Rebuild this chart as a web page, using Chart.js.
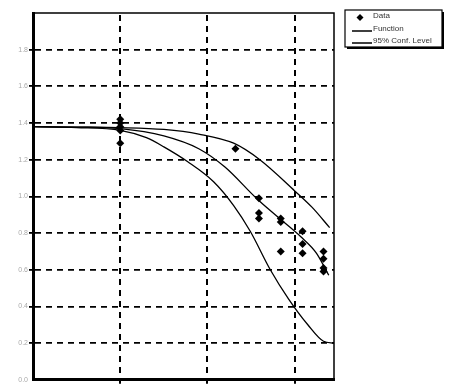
<!DOCTYPE html>
<html>
<head>
<meta charset="utf-8">
<title>Fit chart</title>
<script src="https://cdn.jsdelivr.net/npm/chart.js@4/dist/chart.umd.min.js"></script>
<style>
  html, body { margin: 0; padding: 0; background: #fff; }
  canvas { display: block; }
</style>
</head>
<body>
<canvas id="fitChart" width="459" height="385"></canvas>
<script>
//  Measured data points
const dataX = [1, 1, 1, 1, 1, 2.32, 2.59, 2.59, 2.59, 2.84, 2.84, 2.84, 3.09, 3.09, 3.09, 3.33, 3.33, 3.33, 3.33]
const dataY = [1.42, 1.40, 1.38, 1.36, 1.29, 1.26, 0.99, 0.91, 0.88, 0.88, 0.86, 0.70, 0.81, 0.74, 0.69, 0.70, 0.66, 0.61, 0.59]

//  Fitted function
const fnX = [0, 0.5, 1, 1.5, 1.9, 2.2, 2.56, 2.8, 3.07, 3.25, 3.39]
const fnY = [1.38, 1.378, 1.37, 1.33, 1.26, 1.16, 0.99, 0.89, 0.78, 0.69, 0.57]

//  95% confidence limits
const upperX = [0, 0.5, 1, 1.5, 1.9, 2.3, 2.6, 3.0, 3.2, 3.4]
const upperY = [1.38, 1.378, 1.375, 1.365, 1.34, 1.29, 1.20, 1.03, 0.94, 0.83]
const lowerX = [0, 0.5, 1, 1.3, 1.5, 1.77, 2.07, 2.3, 2.49, 2.72, 2.93, 3.15, 3.33, 3.45]
const lowerY = [1.38, 1.375, 1.36, 1.32, 1.27, 1.19, 1.08, 0.95, 0.81, 0.60, 0.44, 0.30, 0.21, 0.20]

//  Axis setup
const yTicks = ['0.0', '0.2', '0.4', '0.6', '0.8', '1.0', '1.2', '1.4', '1.6', '1.8']
const xGridValues = [1, 2, 3]
const legendLabels = ['Data', 'Function', '95% Conf. Level']

const toPoints = (xs, ys) => xs.map((x, i) => ({ x: x, y: ys[i] }))

//  Dashed vertical grid, drawn under the data
//  (setLineDash gave solid vertical lines here, so dashes are stroked one by one)
const vGridPlugin = {
  id: 'vGridPlugin',
  beforeDatasetsDraw (chart) {
    const ctx = chart.ctx
    const area = chart.chartArea
    const xScale = chart.scales.x
    ctx.save()
    ctx.strokeStyle = '#000'
    ctx.lineWidth = 2
    ctx.lineCap = 'butt'
    xGridValues.forEach(v => {
      const px = Math.round(xScale.getPixelForValue(v))
      for (let y = area.top + 2; y < area.bottom; y += 11) {
        ctx.beginPath()
        ctx.moveTo(px, y)
        ctx.lineTo(px, Math.min(y + 6, area.bottom))
        ctx.stroke()
      }
      // small tick below the axis
      ctx.beginPath()
      ctx.moveTo(px, area.bottom)
      ctx.lineTo(px, area.bottom + 4)
      ctx.stroke()
    })
    ctx.restore()
  }
}

//  Frame and boxed legend drawn after the chart
const framePlugin = {
  id: 'framePlugin',
  afterDraw (chart) {
    const ctx = chart.ctx
    const area = chart.chartArea
    ctx.save()
    ctx.strokeStyle = '#000'
    ctx.lineWidth = 1.5
    ctx.beginPath()
    ctx.moveTo(area.left, area.top)
    ctx.lineTo(area.right, area.top)
    ctx.lineTo(area.right, area.bottom)
    ctx.stroke()

    // legend box with shadow
    const bx = 345, by = 10, bw = 97, bh = 37
    ctx.fillStyle = '#000'
    ctx.fillRect(bx + 2, by + 2, bw, bh)
    ctx.fillStyle = '#fff'
    ctx.fillRect(bx, by, bw, bh)
    ctx.lineWidth = 1.2
    ctx.strokeRect(bx, by, bw, bh)

    ctx.fillStyle = '#000'
    ctx.beginPath()
    ctx.moveTo(360, 14)
    ctx.lineTo(363.5, 17.5)
    ctx.lineTo(360, 21)
    ctx.lineTo(356.5, 17.5)
    ctx.closePath()
    ctx.fill()

    ctx.lineWidth = 1.5
    ctx.beginPath()
    ctx.moveTo(352, 31)
    ctx.lineTo(372, 31)
    ctx.moveTo(352, 43)
    ctx.lineTo(372, 43)
    ctx.stroke()

    ctx.font = '8px "Liberation Sans", Arial, sans-serif'
    ctx.fillStyle = '#333'
    ctx.textBaseline = 'middle'
    ctx.fillText(legendLabels[0], 373, 16)
    ctx.fillText(legendLabels[1], 373, 29)
    ctx.fillText(legendLabels[2], 373, 41)
    ctx.restore()
  }
}

const lineStyle = {
  type: 'scatter',
  showLine: true,
  borderColor: '#000',
  borderWidth: 1.3,
  pointRadius: 0,
  fill: false,
  cubicInterpolationMode: 'monotone'
}

const ctx = document.getElementById('fitChart').getContext('2d')
const fitChart = new Chart(ctx, {
  type: 'scatter',
  data: {
    datasets: [
      {
        label: legendLabels[0],
        data: toPoints(dataX, dataY),
        pointStyle: 'rectRot',
        pointRadius: 4,
        backgroundColor: '#000',
        borderColor: '#000',
        borderWidth: 0
      },
      Object.assign({ label: legendLabels[1], data: toPoints(fnX, fnY) }, lineStyle),
      Object.assign({ label: legendLabels[2], data: toPoints(upperX, upperY) }, lineStyle),
      Object.assign({ label: legendLabels[2] + ' low', data: toPoints(lowerX, lowerY) }, lineStyle)
    ]
  },
  options: {
    responsive: false,
    animation: false,
    layout: { padding: { left: 0, top: 13, right: 125, bottom: 0 } },
    plugins: {
      legend: { display: false },
      tooltip: { enabled: false }
    },
    scales: {
      x: {
        type: 'linear',
        min: 0,
        max: 3.45,
        afterFit (scale) { scale.height = 4 },
        ticks: { stepSize: 1, display: false },
        grid: { display: false },
        border: { color: '#000', width: 3 }
      },
      y: {
        min: 0,
        max: 2.0,
        afterFit (scale) { scale.width = 33 },
        ticks: {
          stepSize: 0.2,
          color: '#aaa',
          padding: 1,
          font: { size: 7, family: '"Liberation Sans", Arial, sans-serif' },
          callback: (value, i) => yTicks[i] || ''
        },
        grid: {
          color: '#000',
          lineWidth: (c) => (c.tick && (c.tick.value === 0 || c.tick.value > 1.9) ? 0 : 1.8),
          tickLength: 4
        },
        border: { color: '#000', width: 3, dash: [6, 5] }
      }
    }
  },
  plugins: [vGridPlugin, framePlugin]
})
</script>
</body>
</html>
